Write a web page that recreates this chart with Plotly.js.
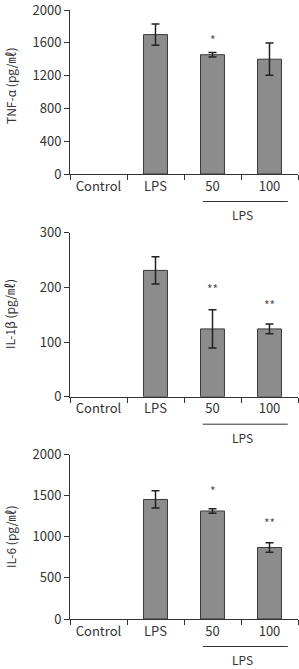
<!DOCTYPE html>
<html>
<head>
<meta charset="utf-8">
<script src="https://cdn.plot.ly/plotly-3.0.1.min.js"></script>
<style>html,body{margin:0;padding:0;background:#fff;}#chart{width:299px;height:669px;}</style>
</head>
<body>
<div id="chart"></div>
<script>
var categories = ['Control', 'LPS', '50', '100'];

var tnfValues = [0, 1700, 1455, 1400];
var tnfErrors = [0, 130, 27, 197];
var tnfStars = ['', '', '*', ''];
var tnfStarLevels = [null, null, 1646, null];

var il1bValues = [0, 231, 124, 124];
var il1bErrors = [0, 25, 35, 9];
var il1bStars = ['', '', '**', '**'];
var il1bStarLevels = [null, null, 198, 169];

var il6Values = [0, 1455, 1315, 870];
var il6Errors = [0, 105, 28, 57];
var il6Stars = ['', '', '*', '**'];
var il6StarLevels = [null, null, 1570, 1180];

var tnfTicks = [0, 400, 800, 1200, 1600, 2000];
var il1bTicks = [0, 100, 200, 300];
var il6Ticks = [0, 500, 1000, 1500, 2000];

var yTitles = ['TNF-α (pg/㎖)', 'IL-1β (pg/㎖)', 'IL-6 (pg/㎖)'];
var groupLabel = 'LPS';

var FONT = '"Noto Sans CJK KR", "Noto Sans", sans-serif';
var TXT = '#333333';
var LINE = '#333333';
var W = 299, H = 669;
var M = {l: 70, r: 1, t: 4, b: 4};
var PH = H - M.t - M.b, PW = W - M.l - M.r;
// panel pixel extents in page coordinates (top, bottom)
var panelsPx = [[10, 174], [232.7, 396.7], [454.7, 619]];
var titleCenterPx = [86, 314, 537];
function py(px) { return 1 - (px - M.t) / PH; }

var series = [
  [tnfValues, tnfErrors, tnfStars, tnfStarLevels, tnfTicks],
  [il1bValues, il1bErrors, il1bStars, il1bStarLevels, il1bTicks],
  [il6Values, il6Errors, il6Stars, il6StarLevels, il6Ticks]
];

var data = [];
var layout = {
  width: W, height: H,
  margin: M,
  paper_bgcolor: '#fff', plot_bgcolor: '#fff',
  showlegend: false,
  bargap: 0.58,
  font: {family: FONT, color: TXT, size: 13},
  annotations: [], shapes: []
};

series.forEach(function (s, i) {
  var n = i === 0 ? '' : String(i + 1);
  var xa = 'x' + n, ya = 'y' + n;
  var ticks = s[4];
  var yTop = ticks[ticks.length - 1];
  // zero-height bars are not drawn (no outline, no cap)
  var lineW = s[0].map(function (v) { return v > 0 ? 1 : 0; });
  var op = s[0].map(function (v) { return v > 0 ? 1 : 0; });
  var errs = s[1].map(function (e, k) { return s[0][k] > 0 ? e : NaN; });
  data.push({
    type: 'bar', x: categories, y: s[0], xaxis: xa, yaxis: ya,
    marker: {color: '#8c8c8c', opacity: op, line: {color: '#3a3a3a', width: lineW}},
    error_y: {type: 'data', array: errs, visible: true, color: '#222', thickness: 1.5, width: 4},
    hoverinfo: 'skip'
  });
  var bottom = py(panelsPx[i][1]), top = py(panelsPx[i][0]);
  layout['xaxis' + n] = {
    type: 'category', anchor: ya, domain: [0, 1], range: [-0.5, 3.5],
    showline: true, linecolor: LINE, linewidth: 1,
    ticks: 'outside', tickson: 'boundaries', ticklen: 5, tickcolor: LINE,
    showgrid: false, zeroline: false, ticklabeloverflow: 'allow',
    tickfont: {family: FONT, size: 13, color: TXT}
  };
  layout['yaxis' + n] = {
    anchor: xa, domain: [bottom, top], range: [0, yTop],
    tickmode: 'array', tickvals: ticks, ticktext: ticks.map(String),
    showline: true, linecolor: LINE, linewidth: 1,
    ticks: 'outside', ticklen: 5, tickcolor: LINE,
    showgrid: false, zeroline: false, ticklabeloverflow: 'allow',
    tickfont: {family: FONT, size: 13, color: TXT}
  };
  layout.annotations.push({
    xref: 'paper', yref: 'paper', x: (10 - M.l) / PW, y: py(titleCenterPx[i]),
    xanchor: 'center', yanchor: 'middle', textangle: -90, showarrow: false,
    text: yTitles[i], font: {family: FONT, size: 12, color: TXT}
  });
  // significance marks (x given as category index)
  for (var k = 0; k < categories.length; k++) {
    if (s[2][k]) {
      layout.annotations.push({
        xref: xa, yref: ya, x: k, y: s[3][k],
        xanchor: 'center', yanchor: 'middle', showarrow: false,
        text: s[2][k], font: {family: FONT, size: 12, color: '#555'}
      });
    }
  }
  // group bracket under 50 and 100
  var basePx = panelsPx[i][1];
  layout.shapes.push({
    type: 'line', xref: xa, yref: 'paper',
    x0: 1.83, x1: 3.32, y0: py(basePx + 27.5), y1: py(basePx + 27.5),
    line: {color: LINE, width: 1}
  });
  layout.annotations.push({
    xref: xa, yref: 'paper', x: 2.53, y: py(basePx + 40.5),
    xanchor: 'center', yanchor: 'middle', showarrow: false,
    text: groupLabel, font: {family: FONT, size: 12, color: TXT}
  });
});

Plotly.newPlot('chart', data, layout, {displayModeBar: false, staticPlot: true});
</script>
</body>
</html>
